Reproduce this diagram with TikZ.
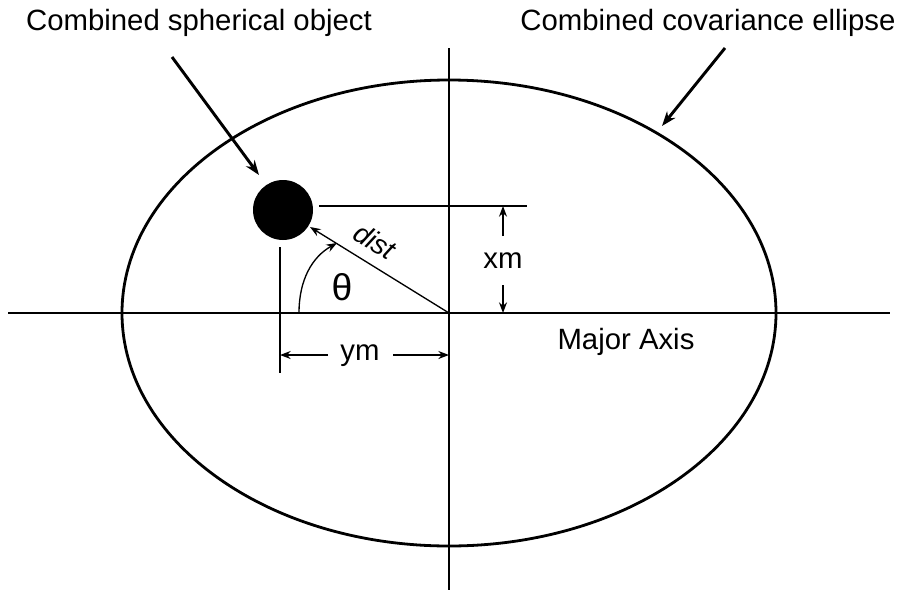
\documentclass[tikz,border=0pt]{standalone}
\usepackage{fontspec}
\setmainfont{Liberation Sans}
\usetikzlibrary{arrows.meta}
\begin{document}
\begin{tikzpicture}[x=0.75pt,y=-0.75pt,
  axisline/.style={line width=0.8pt},
  pointer/.style={line width=2.2pt,-{Stealth[length=11pt,width=8pt]}},
  dimarrow/.style={line width=1pt,-{Stealth[length=8pt,width=6pt]}},
  lbl/.style={font=\fontsize{22}{24}\selectfont,inner sep=0pt}]
\useasboundingbox (0,0) rectangle (900,590);
% centre
\coordinate (O) at (449,313);
% axes
\coordinate (hl) at (8,313);
\coordinate (hr) at (890,313);
\coordinate (vt) at (449,48);
\coordinate (vb) at (449,590);
\draw[axisline] (hl) -- (hr);
\draw[axisline] (vt) -- (vb);
% ellipse
\draw[line width=2.1pt] (O) ellipse [x radius=327, y radius=233];
% object
\node[circle,fill=black,minimum size=60*0.75pt,inner sep=0pt] (obj) at (283,210) {};
% reference lines
\coordinate (ht1) at (319,206);
\coordinate (ht2) at (527,206);
\draw[axisline] (ht1) -- (ht2);
\coordinate (vl1) at (280,247);
\coordinate (vl2) at (280,373);
\draw[axisline] (vl1) -- (vl2);
% dist
\coordinate (distend) at (310,227);
\draw[dimarrow] (O) -- (distend);
\node[font=\fontsize{21}{24}\selectfont\itshape,inner sep=0pt,rotate=-31.7] (dist) at (375,241) {dist};
% theta arc
\coordinate (th0) at (299,313);
\coordinate (th1) at (337,243);
\draw[dimarrow] (th0) .. controls (299,280) and (312,257) .. (th1);
\node[font=\fontsize{28}{30}\selectfont,inner sep=0pt] (theta) at (342,287) {θ};
% xm
\node[lbl] (xm) at (503,261) {xm};
\coordinate (xmt) at (503,206);
\coordinate (xmb) at (503,313);
\draw[dimarrow] (503,236) -- (xmt);
\draw[dimarrow] (503,285) -- (xmb);
% ym
\node[lbl] (ym) at (360,356) {ym};
\coordinate (yml) at (280,355);
\coordinate (ymr) at (449,355);
\draw[dimarrow] (328,355) -- (yml);
\draw[dimarrow] (393,355) -- (ymr);
% labels
\node[lbl] (major) at (626,342) {Major Axis};
\node[lbl] (cso) at (199,23) {Combined spherical object};
\node[lbl] (cce) at (708,23) {Combined covariance ellipse};
\coordinate (p1s) at (172,57);
\coordinate (p1e) at (259,175);
\draw[pointer] (p1s) -- (p1e);
\coordinate (p2s) at (725,48);
\coordinate (p2e) at (662,126);
\draw[pointer] (p2s) -- (p2e);
\end{tikzpicture}
\end{document}
